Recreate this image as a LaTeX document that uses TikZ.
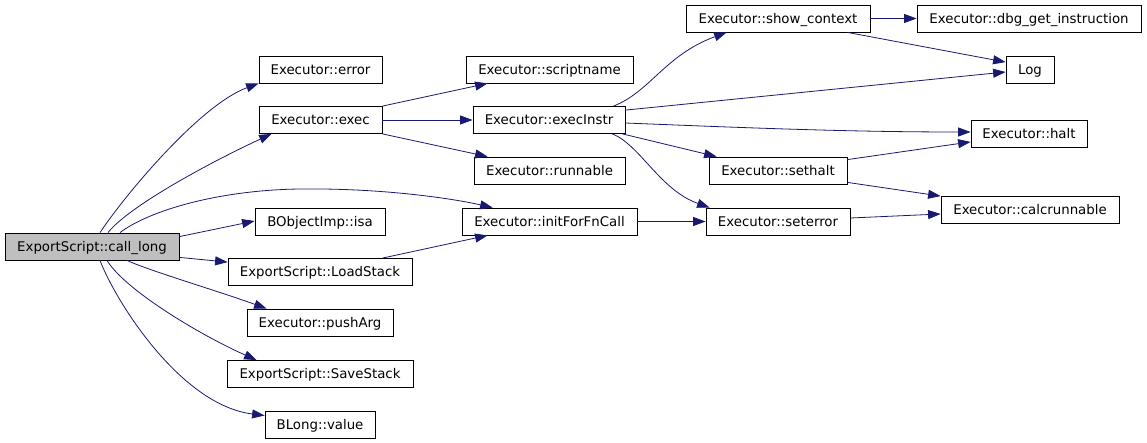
\documentclass[tikz,border=0pt]{standalone}
\usepackage{fontspec}
\setmainfont{DejaVu Sans}
\usetikzlibrary{arrows.meta,calc}
\definecolor{edgeblue}{HTML}{191970}
\begin{document}
\begin{tikzpicture}[x=1pt,y=-1pt,
  fn/.style={draw=black,line width=0.8pt,rectangle,inner sep=0pt,minimum height=27pt,
    text height=12.5pt,text depth=3pt,font=\fontsize{13.33}{16}\selectfont},
  edge/.style={draw=edgeblue,line width=0.8pt,-{Triangle[length=12.5pt,width=9pt]}},
]
\useasboundingbox (0,0) rectangle (1147,443);
% column 1
\node[fn,fill=black!25,minimum width=174pt] (cl) at (92,246.5) {ExportScript::call\_long};
% column 2
\node[fn,minimum width=123pt] (error) at (320.5,69.5) {Executor::error};
\node[fn,minimum width=123pt] (exec) at (320.5,120) {Executor::exec};
\node[fn,minimum width=130pt] (isa) at (320,221.5) {BObjectImp::isa};
\node[fn,minimum width=184pt] (ls) at (320,272) {ExportScript::LoadStack};
\node[fn,minimum width=146pt] (push) at (320,322.5) {Executor::pushArg};
\node[fn,minimum width=186pt] (ss) at (320,374) {ExportScript::SaveStack};
\node[fn,minimum width=110pt] (bl) at (320,424.5) {BLong::value};
% column 3
\node[fn,minimum width=167pt] (sn) at (549.5,69.5) {Executor::scriptname};
\node[fn,minimum width=152pt] (ei) at (549,120) {Executor::execInstr};
\node[fn,minimum width=151pt] (run) at (549.5,170.5) {Executor::runnable};
\node[fn,minimum width=175pt] (init) at (549.5,221.5) {Executor::initForFnCall};
% column 4
\node[fn,minimum width=184pt] (show) at (778,18.5) {Executor::show\_context};
\node[fn,minimum width=138pt] (sh) at (778,170.5) {Executor::sethalt};
\node[fn,minimum width=144pt] (se) at (778,221.5) {Executor::seterror};
% column 5
\node[fn,minimum width=224pt] (dbg) at (1029,18.5) {Executor::dbg\_get\_instruction};
\node[fn,minimum width=48pt] (log) at (1030,70) {Log};
\node[fn,minimum width=116pt] (halt) at (1029,134) {Executor::halt};
\node[fn,minimum width=178pt] (calc) at (1030,210) {Executor::calcrunnable};

% edges from call_long
\draw[edge] ($(cl.north)+(8,0)$) .. controls (125,195) and (200,105) .. (error.south west);
\draw[edge] ($(cl.north)+(16,0)$) .. controls (130,205) and (215,160) .. ($(exec.south west)+(13,0)$);
\draw[edge] ($(cl.north)+(28,0)$) .. controls (150,210) and (220,190) .. (300,189)
   .. controls (380,188) and (450,198) .. ($(init.north west)+(31,0)$);
\draw[edge] ($(cl.north east)+(0,4)$) -- ($(isa.west)+(0,-0.5)$);
\draw[edge] ($(cl.south east)+(0,-3)$) -- ($(ls.north west)+(0,4)$);
\draw[edge] ($(cl.south)+(35,0)$) .. controls (150,271) and (215,290) .. ($(push.north west)+(20,0)$);
\draw[edge] ($(cl.south)+(15,0)$) .. controls (125,290) and (200,335) .. ($(ss.north west)+(30,0)$);
\draw[edge] ($(cl.south)+(8,0)$) .. controls (115,300) and (180,405) .. ($(bl.west)+(0,-9)$);
% edges from exec
\draw[edge] (exec.north east) -- ($(sn.south west)+(22,0)$);
\draw[edge] (exec.east) -- (ei.west);
\draw[edge] (exec.south east) -- ($(run.north west)+(14,0)$);
% edges from execInstr
\draw[edge] ($(ei.north east)+(-12,0)$) .. controls (650,92) and (665,55) .. ($(show.south west)+(41,0)$);
\draw[edge] ($(ei.north east)+(0,4)$) -- ($(log.west)+(0,2)$);
\draw[edge] ($(ei.east)+(0,3)$) .. controls (750,128) and (850,132) .. ($(halt.west)+(0,-2)$);
\draw[edge] ($(ei.south east)+(-3,0)$) -- ($(sh.north west)+(8,0)$);
\draw[edge] ($(ei.south east)+(-13,0)$) .. controls (640,145) and (660,190) .. ($(se.north west)+(4,0)$);
% other edges
\draw[edge] ($(ls.north east)+(-30,0)$) -- ($(init.south west)+(26,0)$);
\draw[edge] (init.east) -- (se.west);
\draw[edge] (show.east) -- (dbg.west);
\draw[edge] ($(show.south east)+(-23,0)$) -- ($(log.north west)+(0,6)$);
\draw[edge] ($(sh.north east)+(0,3)$) -- ($(halt.south west)+(0,-6)$);
\draw[edge] ($(sh.south east)+(0,-2)$) -- (calc.north west);
\draw[edge] ($(se.east)+(0,-3.5)$) -- ($(calc.west)+(0,4)$);
\end{tikzpicture}
\end{document}
